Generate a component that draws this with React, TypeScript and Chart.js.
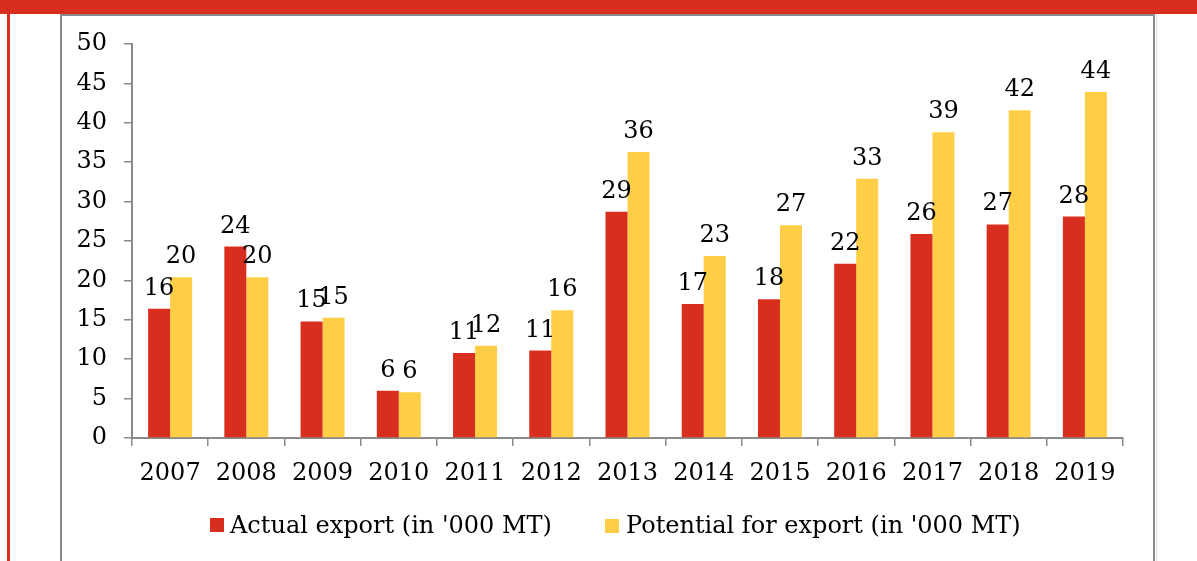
import React, { useEffect, useRef } from "react";
import { Chart, registerables } from "chart.js";

Chart.register(...registerables);

const years = ["2007", "2008", "2009", "2010", "2011", "2012", "2013", "2014", "2015", "2016", "2017", "2018", "2019"];
const actualExport = [16.4, 24.3, 14.8, 6.0, 10.8, 11.1, 28.7, 17.0, 17.6, 22.1, 25.9, 27.1, 28.1];
const potentialExport = [20.4, 20.4, 15.25, 5.8, 11.7, 16.2, 36.3, 23.1, 27.0, 32.9, 38.8, 41.6, 43.9];
const seriesNames = ["Actual export (in '000 MT)", "Potential for export (in '000 MT)"];
const yMin = 0;
const yMax = 50;
const yStep = 5;

const RED = "#D72E1E";
const YELLOW = "#FFCE47";
const GRAY = "#8A8A8A";
const FONT = '"DejaVu Serif", "Liberation Serif", serif';
const FS = 24;

const W = 1197;
const H = 561;

const labelPlugin = {
  id: "barValueLabels",
  afterDatasetsDraw(chart: any) {
    const ctx = chart.ctx;
    ctx.save();
    ctx.font = `${FS}px ${FONT}`;
    ctx.fillStyle = "#000";
    ctx.textAlign = "center";
    ctx.textBaseline = "alphabetic";
    chart.data.datasets.forEach((ds: any, di: number) => {
      const meta = chart.getDatasetMeta(di);
      meta.data.forEach((el: any, i: number) => {
        const v = ds.data[i];
        ctx.fillText(String(Math.round(v)), el.x, el.y - 14);
      });
    });
    ctx.restore();
  },
};

export default function App() {
  const ref = useRef<HTMLCanvasElement>(null);

  useEffect(() => {
    if (!ref.current) return;
    const chart = new Chart(ref.current, {
      type: "bar",
      data: {
        labels: years,
        datasets: [
          {
            label: seriesNames[0],
            data: actualExport,
            backgroundColor: RED,
            categoryPercentage: 0.577,
            barPercentage: 1.0,
          },
          {
            label: seriesNames[1],
            data: potentialExport,
            backgroundColor: YELLOW,
            categoryPercentage: 0.577,
            barPercentage: 1.0,
          },
        ],
      },
      options: {
        animation: false,
        responsive: false,
        maintainAspectRatio: false,
        layout: { padding: { left: 0, top: 44, right: 74, bottom: 0 } },
        plugins: {
          legend: { display: false },
          tooltip: { enabled: false },
        },
        scales: {
          x: {
            afterFit: (s: any) => {
              s.height = H - 438;
            },
            grid: {
              display: true,
              drawOnChartArea: false,
              drawTicks: true,
              tickLength: 8,
              color: GRAY,
              lineWidth: 1.5,
              offset: true,
            },
            border: { display: true, color: GRAY, width: 2 },
            ticks: {
              color: "#000",
              font: { family: FONT, size: FS },
              padding: 13,
              maxRotation: 0,
              autoSkip: false,
            },
          },
          y: {
            min: yMin,
            max: yMax,
            afterFit: (s: any) => {
              s.width = 132;
            },
            grid: {
              display: true,
              drawOnChartArea: false,
              drawTicks: true,
              tickLength: 8,
              color: GRAY,
              lineWidth: 1.5,
            },
            border: { display: true, color: GRAY, width: 2 },
            ticks: {
              stepSize: yStep,
              color: "#000",
              font: { family: FONT, size: FS },
              padding: 17,
            },
          },
        },
      },
      plugins: [labelPlugin],
    });
    return () => chart.destroy();
  }, []);

  const legendText: React.CSSProperties = {
    position: "absolute",
    fontFamily: FONT,
    fontSize: FS,
    color: "#000",
    lineHeight: "1",
    whiteSpace: "nowrap",
  };

  return (
    <div
      style={{
        position: "fixed",
        left: 0,
        top: 0,
        width: W,
        height: H,
        background: "#fff",
        overflow: "hidden",
      }}
    >
      <div style={{ position: "absolute", left: 0, top: 0, width: W, height: 14, background: RED }} />
      <div style={{ position: "absolute", left: 7, top: 14, width: 3, height: H, background: RED }} />
      <div
        style={{
          position: "absolute",
          left: 60,
          top: 14,
          width: 1155 - 60,
          height: H,
          boxSizing: "border-box",
          border: `2px solid ${GRAY}`,
          borderBottom: "none",
        }}
      />
      <div style={{ position: "absolute", left: 1156, top: 14, width: 1, height: H, background: "#dcdcdc" }} />
      <canvas ref={ref} width={W} height={H} style={{ position: "absolute", left: 0, top: 0, width: W, height: H }} />
      <div style={{ position: "absolute", left: 210, top: 518, width: 14, height: 14, background: RED }} />
      <div style={{ ...legendText, left: 230, top: 513 }}>{seriesNames[0]}</div>
      <div style={{ position: "absolute", left: 605, top: 519, width: 14, height: 14, background: YELLOW }} />
      <div style={{ ...legendText, left: 626, top: 513 }}>{seriesNames[1]}</div>
    </div>
  );
}
